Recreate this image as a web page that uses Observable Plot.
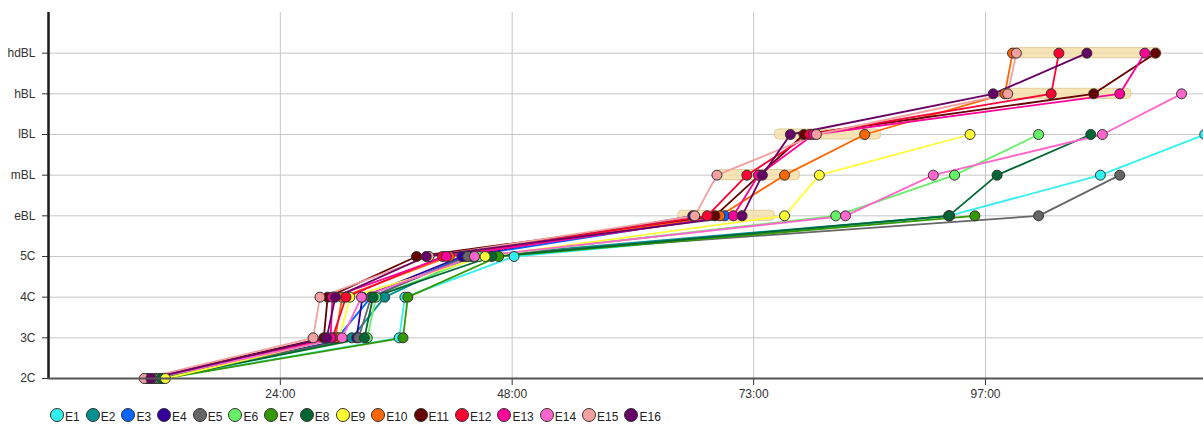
<!DOCTYPE html>
<html>
<head>
<meta charset="utf-8">
<script src="https://cdn.jsdelivr.net/npm/d3@7"></script>
<script src="https://cdn.jsdelivr.net/npm/@observablehq/plot@0.6"></script>
<style>
  html, body { margin: 0; padding: 0; background: #fff; }
  #chart { width: 1203px; height: 425px; position: relative; overflow: hidden; font-family: "Liberation Sans", Arial, sans-serif; }
  #legend { display: flex; align-items: center; padding-left: 50px; height: 24px; font-size: 12px; color: #222; }
  .item { display: flex; align-items: center; margin-right: 6px; }
  .sw { width: 14px; height: 14px; border-radius: 50%; border: 1px solid #333; box-sizing: border-box; margin-right: 1px; }
  .lab { position: relative; top: 2px; }
</style>
</head>
<body>
<div id="chart"></div>
<script>
// ---- data ----
const stages = ["2C", "3C", "4C", "5C", "eBL", "mBL", "lBL", "hBL", "hdBL"];
const series = ["E1","E2","E3","E4","E5","E6","E7","E8","E9","E10","E11","E12","E13","E14","E15","E16"];
const colors = ["#33f0f0","#009090","#0066ff","#330099","#666666","#66f066","#339900","#006633",
                "#ffff33","#ff6600","#660000","#ff0033","#ff0099","#ff66cc","#f4a0a0","#660066"];
const xTicks = [24, 48, 73, 97];
const xTickLabels = ["24:00", "48:00", "73:00", "97:00"];

// hours at which each embryo reached successive stages (from 2C onward)
const E1  = [11.7, 36.3, 36.9, 48.2, 93.2, 108.9, 119.7];
const E2  = [11.3, 31.4, 34.8, 43.8, 93.3];
const E3  = [10.9, 29.9, 33.4, 43.1, 70.0];
const E4  = [10.7, 31.9, 32.5, 42.8, 66.7];
const E5  = [11.1, 32.1, 33.4, 43.4, 102.5, 110.9];
const E6  = [11.5, 33.0, 33.9, 44.6, 81.5, 93.8, 102.5];
const E7  = [11.9, 36.7, 37.2, 46.6, 95.9];
const E8  = [11.7, 32.7, 33.6, 45.9, 93.2, 98.2, 107.9];
const E9  = [12.1, 30.1, 31.2, 45.2, 76.2, 79.8, 95.4];
const E10 = [10.5, 29.7, 30.4, 41.5, 69.5, 76.2, 84.5, 99.0, 99.8];
const E11 = [10.2, 28.5, 28.9, 38.1, 69.0, 73.6, 78.2, 108.2, 114.6];
const E12 = [10.35, 29.4, 30.8, 40.8, 68.2, 72.3, 78.8, 103.8, 104.6];
const E13 = [10.5, 29.2, 29.4, 41.2, 70.9, 73.5, 79.2, 110.9, 113.5];
const E14 = [10.7, 30.4, 32.4, 44.1, 82.5, 91.6, 109.1, 117.3];
const E15 = [9.9, 27.4, 28.1, 39.4, 66.9, 69.2, 79.5, 99.3, 100.2];
const E16 = [10.6, 28.8, 29.7, 39.1, 71.8, 73.9, 76.8, 97.8, 107.5];

// highlighted expected windows
const bandStages = ["eBL", "mBL", "lBL", "hBL", "hdBL"];
const bandStart  = [65.2, 69.2, 75.2, 98.7, 99.5];
const bandEnd    = [75.2, 77.8, 86.2, 112.1, 115.2];

// ---- build tables ----
const tracks = {E1,E2,E3,E4,E5,E6,E7,E8,E9,E10,E11,E12,E13,E14,E15,E16};
const rows = series.flatMap(s => tracks[s].map((t, j) => ({series: s, time: t, stage: j})));
const bands = bandStages.map((s, i) => ({stage: stages.indexOf(s), x1: bandStart[i], x2: bandEnd[i]}));

const chart = Plot.plot({
  width: 1203,
  height: 403,
  marginLeft: 48,
  marginRight: 0,
  marginTop: 12,
  marginBottom: 25,
  style: {fontFamily: '"Liberation Sans", Arial, sans-serif', fontSize: "12px", color: "#333", background: "#fff"},
  x: {domain: [0, 119.57], ticks: xTicks, tickFormat: d => xTickLabels[xTicks.indexOf(d)], tickSize: 7, tickPadding: 4, label: null},
  y: {domain: [0, 9], ticks: d3.range(stages.length), tickFormat: i => stages[i], tickSize: 6, tickPadding: 7, label: null},
  color: {domain: series, range: colors},
  marks: [
    Plot.ruleY(d3.range(1, stages.length), {stroke: "#c6c6c6", strokeWidth: 1}),
    Plot.ruleX(xTicks, {y1: 0, y2: 9, stroke: "#c6c6c6", strokeWidth: 1}),
    Plot.rect(bands, {x1: "x1", x2: "x2", y1: d => d.stage - 0.125, y2: d => d.stage + 0.125,
      fill: "#f5dfa6", fillOpacity: 0.8, stroke: "#d8be84", strokeOpacity: 0.7, rx: 4}),
    Plot.line(rows, {x: "time", y: "stage", z: "series", stroke: "series", strokeWidth: 1.8}),
    Plot.dot(rows, {x: "time", y: "stage", fill: "series", stroke: "#333", strokeWidth: 1, r: 5}),
    Plot.ruleX([0], {y1: 0, y2: 9, stroke: "#1a1a1a", strokeWidth: 2.5}),
    Plot.ruleY([0], {stroke: "#555", strokeWidth: 2})
  ]
});
document.getElementById("chart").append(chart);

const legend = document.createElement("div");
legend.id = "legend";
series.forEach((s, i) => {
  const it = document.createElement("div");
  it.className = "item";
  const sw = document.createElement("div");
  sw.className = "sw";
  sw.style.background = colors[i];
  const lab = document.createElement("span");
  lab.className = "lab";
  lab.textContent = s;
  it.append(sw, lab);
  legend.append(it);
});
document.getElementById("chart").append(legend);
</script>
</body>
</html>
